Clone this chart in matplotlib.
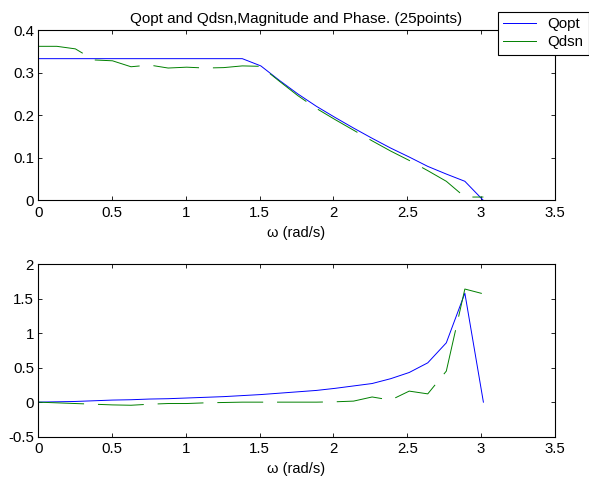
import numpy as np
import matplotlib
matplotlib.use("Agg")
import matplotlib.pyplot as plt

plt.rcParams['font.family'] = ['Liberation Sans', 'DejaVu Sans']
plt.rcParams['lines.scale_dashes'] = False

# 25 frequency points, 0 .. 24*pi/25
w = np.arange(25) * np.pi / 25

qopt_mag = [0.333, 0.333, 0.333, 0.333, 0.333, 0.333, 0.333, 0.333, 0.333, 0.333,
            0.333, 0.333, 0.316, 0.282, 0.250, 0.221, 0.195, 0.170, 0.146, 0.123,
            0.102, 0.080, 0.062, 0.045, 0.000]
qdsn_mag = [0.362, 0.362, 0.356, 0.330, 0.328, 0.314, 0.318, 0.311, 0.313, 0.311,
            0.312, 0.316, 0.315, 0.280, 0.246, 0.216, 0.190, 0.165, 0.140, 0.116,
            0.094, 0.070, 0.045, 0.008, 0.008]
qopt_ph = [0.000, 0.005, 0.010, 0.020, 0.030, 0.035, 0.045, 0.050, 0.060, 0.070,
           0.080, 0.095, 0.110, 0.130, 0.150, 0.170, 0.200, 0.235, 0.270, 0.340,
           0.430, 0.570, 0.860, 1.580, 0.000]
qdsn_ph = [0.000, -0.010, -0.020, -0.030, -0.040, -0.045, -0.030, -0.020, -0.020, -0.010,
           -0.005, 0.000, 0.000, 0.000, 0.000, 0.000, 0.005, 0.015, 0.075, 0.030,
           0.160, 0.120, 0.450, 1.640, 1.570]

BLUE = '#0000ff'
GREEN = '#008000'
DASH = (0, (33, 10))
FS = 10.8


def style_axes(ax, ylim, yticks):
    ax.set_xlim(0, 3.5)
    ax.set_ylim(*ylim)
    ax.set_xticks([0, 0.5, 1, 1.5, 2, 2.5, 3, 3.5])
    ax.set_xticklabels(['0', '0.5', '1', '1.5', '2', '2.5', '3', '3.5'])
    ax.set_yticks(yticks)
    ax.set_yticklabels([('%g' % t) for t in yticks])
    ax.tick_params(direction='in', length=3, width=0.6, top=True, right=True,
                   labelsize=FS)
    ax.tick_params(axis='x', pad=4)
    ax.tick_params(axis='y', pad=3)
    for s in ax.spines.values():
        s.set_linewidth(0.8)
    ax.set_xlabel('ω (rad/s)', fontsize=10.5, labelpad=4)


fig = plt.figure(figsize=(5.89, 4.83), dpi=100)
ax1 = fig.add_axes([0.065, 0.585, 0.877, 0.3526])
ax2 = fig.add_axes([0.065, 0.096, 0.877, 0.357])

l1, = ax1.plot(w, qopt_mag, color=BLUE, lw=0.7, label='Qopt')
l2, = ax1.plot(w, qdsn_mag, color=GREEN, lw=0.7, linestyle=DASH, label='Qdsn')
style_axes(ax1, (0, 0.4), [0, 0.1, 0.2, 0.3, 0.4])
ax1.set_title('Qopt and Qdsn,Magnitude and Phase. (25points)', fontsize=11, pad=5)

ax2.plot(w, qopt_ph, color=BLUE, lw=0.7)
ax2.plot(w, qdsn_ph, color=GREEN, lw=0.7, linestyle=DASH)
style_axes(ax2, (-0.5, 2), [-0.5, 0, 0.5, 1, 1.5, 2])

leg = fig.legend(handles=[l1, l2], loc='upper right', bbox_to_anchor=(1.0, 0.976),
                 fontsize=FS, frameon=True, fancybox=False, edgecolor='black',
                 framealpha=1, handlelength=2.2, handletextpad=0.8,
                 borderpad=0.35, labelspacing=0.3, borderaxespad=0)
leg.get_frame().set_linewidth(0.8)
for h in leg.get_lines():
    h.set_linestyle('-')

fig.savefig('out.png', dpi=100)
